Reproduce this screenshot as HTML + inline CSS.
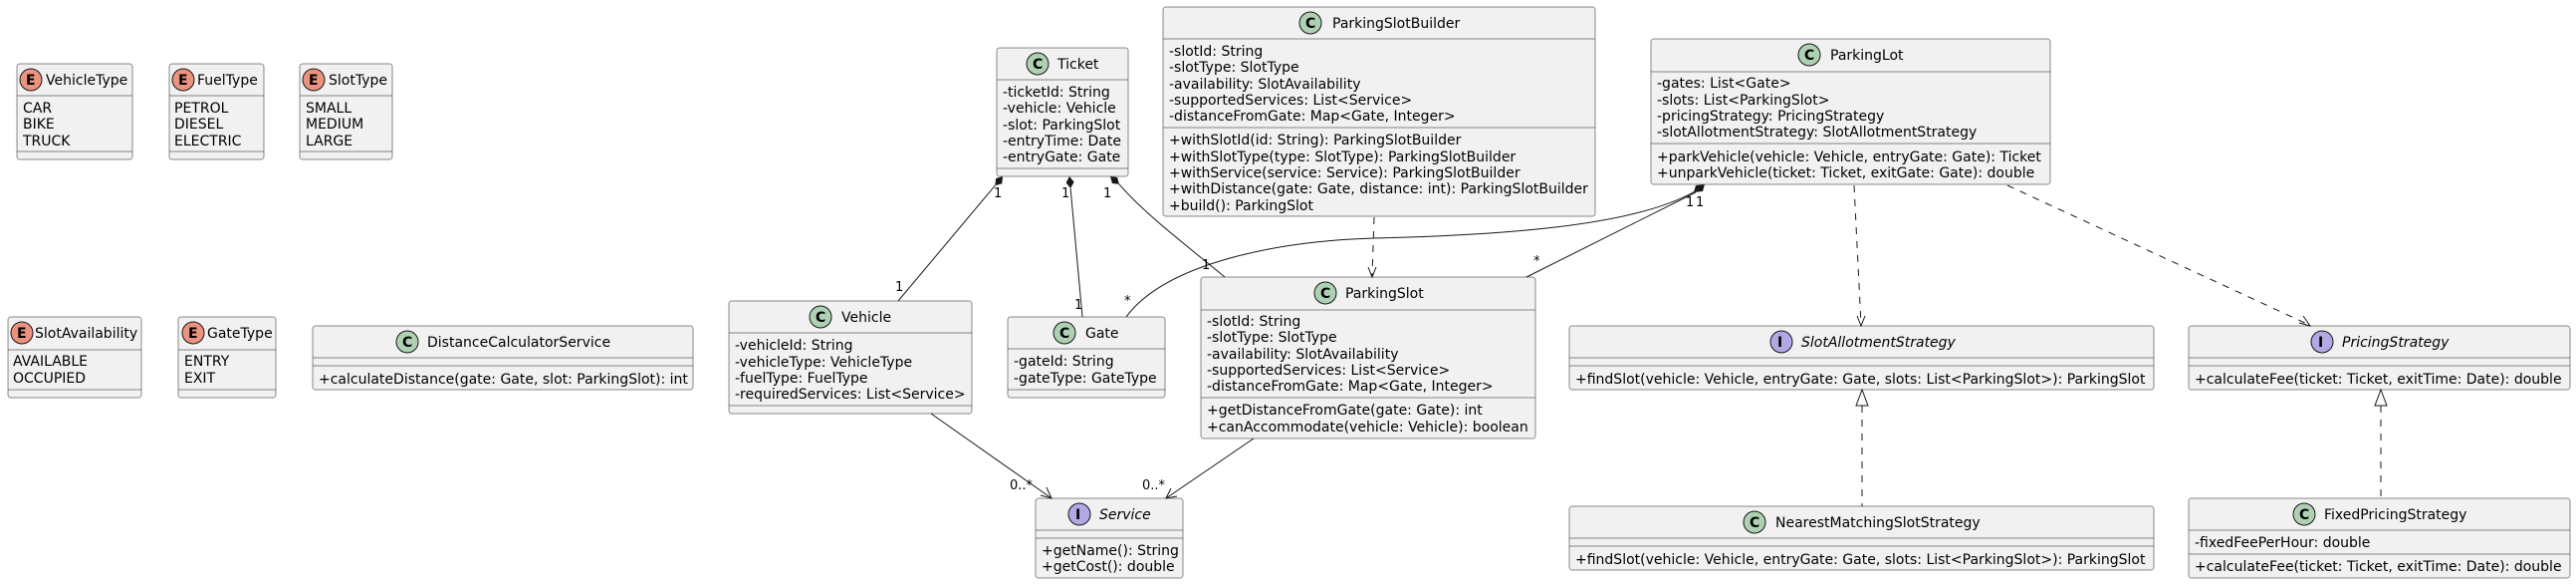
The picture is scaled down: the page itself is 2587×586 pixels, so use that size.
<!DOCTYPE html>
<html><head><meta charset="utf-8"><style>
html,body{margin:0;padding:0;background:#fff}
svg{display:block}
text{font-family:"DejaVu Sans","Liberation Sans",sans-serif;font-size:14px;fill:#000}
.b{fill:#F1F1F1;stroke:#181818;stroke-width:0.5}
.d{stroke:#181818;stroke-width:0.5}
.l{stroke:#181818;stroke-width:1;fill:none}
.ds{stroke:#181818;stroke-width:1;fill:none;stroke-dasharray:7,7}
.ce{fill:#EB937F;stroke:#181818;stroke-width:1}
.cc{fill:#ADD1B2;stroke:#181818;stroke-width:1}
.ci{fill:#B4A7E5;stroke:#181818;stroke-width:1}
.g{font-weight:bold;font-size:14px}
.i{font-style:italic}
.s{font-size:13px}
</style></head><body>
<svg width="2587" height="586" viewBox="0 0 2587 586" xmlns="http://www.w3.org/2000/svg">

<!-- VehicleType -->
<rect class="b" x="17" y="64" width="116" height="96" rx="2.5"/>
<line class="d" x1="17" y1="96" x2="133" y2="96"/><line class="d" x1="17" y1="152" x2="133" y2="152"/>
<circle class="ce" cx="31" cy="80" r="11"/><text class="g" x="26" y="85">E</text>
<text x="46" y="85">VehicleType</text>
<text x="23" y="113">CAR</text><text x="23" y="129">BIKE</text><text x="23" y="146">TRUCK</text>

<!-- FuelType -->
<rect class="b" x="170" y="64" width="95" height="96" rx="2.5"/>
<line class="d" x1="170" y1="96" x2="265" y2="96"/><line class="d" x1="170" y1="152" x2="265" y2="152"/>
<circle class="ce" cx="184" cy="80" r="11"/><text class="g" x="179" y="85">E</text>
<text x="198" y="85">FuelType</text>
<text x="175" y="113">PETROL</text><text x="175" y="129">DIESEL</text><text x="175" y="146">ELECTRIC</text>

<!-- SlotType -->
<rect class="b" x="301" y="64" width="93" height="96" rx="2.5"/>
<line class="d" x1="301" y1="96" x2="394" y2="96"/><line class="d" x1="301" y1="152" x2="394" y2="152"/>
<circle class="ce" cx="315" cy="80" r="11"/><text class="g" x="310" y="85">E</text>
<text x="330" y="85">SlotType</text>
<text x="307" y="113">SMALL</text><text x="307" y="129">MEDIUM</text><text x="307" y="146">LARGE</text>

<!-- SlotAvailability -->
<rect class="b" x="8" y="318" width="134" height="81" rx="2.5"/>
<line class="d" x1="8" y1="351" x2="142" y2="351"/><line class="d" x1="8" y1="391" x2="142" y2="391"/>
<circle class="ce" cx="22" cy="334" r="11"/><text class="g" x="17" y="339">E</text>
<text x="35" y="339">SlotAvailability</text>
<text x="13" y="367">AVAILABLE</text><text x="13" y="384">OCCUPIED</text>

<!-- GateType -->
<rect class="b" x="179" y="318" width="98" height="81" rx="2.5"/>
<line class="d" x1="179" y1="351" x2="277" y2="351"/><line class="d" x1="179" y1="391" x2="277" y2="391"/>
<circle class="ce" cx="194" cy="334" r="11"/><text class="g" x="189" y="339">E</text>
<text x="208" y="339">GateType</text>
<text x="185" y="367">ENTRY</text><text x="185" y="384">EXIT</text>

<!-- DistanceCalculatorService -->
<rect class="b" x="314" y="327" width="382" height="64" rx="2.5"/>
<line class="d" x1="314" y1="359" x2="696" y2="359"/><line class="d" x1="314" y1="367" x2="696" y2="367"/>
<circle class="cc" cx="409" cy="343" r="11"/><text class="g" x="404" y="348">C</text>
<text x="429" y="348">DistanceCalculatorService</text>
<text x="320" y="385">+calculateDistance(gate: Gate, slot: ParkingSlot): int</text>

<!-- Ticket -->
<rect class="b" x="1001" y="48" width="132" height="129" rx="2.5"/>
<line class="d" x1="1001" y1="80" x2="1133" y2="80"/><line class="d" x1="1001" y1="169" x2="1133" y2="169"/>
<circle class="cc" cx="1042" cy="64" r="11"/><text class="g" x="1037" y="69">C</text>
<text x="1062" y="69">Ticket</text>
<text x="1007" y="97">-ticketId: String</text><text x="1007" y="113">-vehicle: Vehicle</text><text x="1007" y="130">-slot: ParkingSlot</text><text x="1007" y="146">-entryTime: Date</text><text x="1007" y="162">-entryGate: Gate</text>

<!-- ParkingSlotBuilder -->
<rect class="b" x="1168" y="7" width="434" height="210" rx="2.5"/>
<line class="d" x1="1168" y1="39" x2="1602" y2="39"/><line class="d" x1="1168" y1="128" x2="1602" y2="128"/>
<circle class="cc" cx="1316" cy="23" r="11"/><text class="g" x="1311" y="28">C</text>
<text x="1338" y="28">ParkingSlotBuilder</text>
<text x="1174" y="56">-slotId: String</text><text x="1174" y="72">-slotType: SlotType</text><text x="1174" y="89">-availability: SlotAvailability</text><text x="1174" y="105">-supportedServices: List&lt;Service&gt;</text><text x="1174" y="121">-distanceFromGate: Map&lt;Gate, Integer&gt;</text>
<text x="1174" y="145">+withSlotId(id: String): ParkingSlotBuilder</text><text x="1174" y="162">+withSlotType(type: SlotType): ParkingSlotBuilder</text><text x="1174" y="178">+withService(service: Service): ParkingSlotBuilder</text><text x="1174" y="194">+withDistance(gate: Gate, distance: int): ParkingSlotBuilder</text><text x="1174" y="211">+build(): ParkingSlot</text>

<!-- ParkingLot -->
<rect class="b" x="1658" y="39" width="401" height="146" rx="2.5"/>
<line class="d" x1="1658" y1="72" x2="2059" y2="72"/><line class="d" x1="1658" y1="144" x2="2059" y2="144"/>
<circle class="cc" cx="1817" cy="55" r="11"/><text class="g" x="1812" y="60">C</text>
<text x="1838" y="60">ParkingLot</text>
<text x="1664" y="88">-gates: List&lt;Gate&gt;</text><text x="1664" y="105">-slots: List&lt;ParkingSlot&gt;</text><text x="1664" y="121">-pricingStrategy: PricingStrategy</text><text x="1664" y="137">-slotAllotmentStrategy: SlotAllotmentStrategy</text>
<text x="1664" y="162">+parkVehicle(vehicle: Vehicle, entryGate: Gate): Ticket</text><text x="1664" y="178">+unparkVehicle(ticket: Ticket, exitGate: Gate): double</text>

<!-- Vehicle -->
<rect class="b" x="732" y="302" width="244" height="113" rx="2.5"/>
<line class="d" x1="732" y1="334" x2="976" y2="334"/><line class="d" x1="732" y1="407" x2="976" y2="407"/>
<circle class="cc" cx="824" cy="318" r="11"/><text class="g" x="819" y="323">C</text>
<text x="845" y="323">Vehicle</text>
<text x="738" y="351">-vehicleId: String</text><text x="738" y="368">-vehicleType: VehicleType</text><text x="738" y="384">-fuelType: FuelType</text><text x="738" y="400">-requiredServices: List&lt;Service&gt;</text>

<!-- Gate -->
<rect class="b" x="1012" y="318" width="158" height="81" rx="2.5"/>
<line class="d" x1="1012" y1="350" x2="1170" y2="350"/><line class="d" x1="1012" y1="391" x2="1170" y2="391"/>
<circle class="cc" cx="1069" cy="334" r="11"/><text class="g" x="1064" y="339">C</text>
<text x="1090" y="339">Gate</text>
<text x="1018" y="367">-gateId: String</text><text x="1018" y="384">-gateType: GateType</text>

<!-- ParkingSlot -->
<rect class="b" x="1206" y="278" width="336" height="162" rx="2.5"/>
<line class="d" x1="1206" y1="311" x2="1542" y2="311"/><line class="d" x1="1206" y1="399" x2="1542" y2="399"/>
<circle class="cc" cx="1331" cy="294" r="11"/><text class="g" x="1326" y="299">C</text>
<text x="1351" y="299">ParkingSlot</text>
<text x="1212" y="327">-slotId: String</text><text x="1212" y="343">-slotType: SlotType</text><text x="1212" y="360">-availability: SlotAvailability</text><text x="1212" y="376">-supportedServices: List&lt;Service&gt;</text><text x="1212" y="392">-distanceFromGate: Map&lt;Gate, Integer&gt;</text>
<text x="1212" y="416">+getDistanceFromGate(gate: Gate): int</text><text x="1212" y="433">+canAccommodate(vehicle: Vehicle): boolean</text>

<!-- Service -->
<rect class="b" x="1040" y="500" width="148" height="80" rx="2.5"/>
<line class="d" x1="1040" y1="532" x2="1188" y2="532"/><line class="d" x1="1040" y1="540" x2="1188" y2="540"/>
<circle class="ci" cx="1084" cy="516" r="11"/><text class="g" x="1080" y="521">I</text>
<text class="i" x="1104" y="521">Service</text>
<text x="1046" y="557">+getName(): String</text><text x="1046" y="573">+getCost(): double</text>

<!-- SlotAllotmentStrategy -->
<rect class="b" x="1576" y="327" width="587" height="64" rx="2.5"/>
<line class="d" x1="1576" y1="359" x2="2163" y2="359"/><line class="d" x1="1576" y1="367" x2="2163" y2="367"/>
<circle class="ci" cx="1789" cy="343" r="11"/><text class="g" x="1785" y="348">I</text>
<text class="i" x="1809" y="348">SlotAllotmentStrategy</text>
<text x="1582" y="385">+findSlot(vehicle: Vehicle, entryGate: Gate, slots: List&lt;ParkingSlot&gt;): ParkingSlot</text>

<!-- PricingStrategy -->
<rect class="b" x="2198" y="327" width="383" height="64" rx="2.5"/>
<line class="d" x1="2198" y1="359" x2="2581" y2="359"/><line class="d" x1="2198" y1="367" x2="2581" y2="367"/>
<circle class="ci" cx="2332" cy="343" r="11"/><text class="g" x="2328" y="348">I</text>
<text class="i" x="2352" y="348">PricingStrategy</text>
<text x="2204" y="385">+calculateFee(ticket: Ticket, exitTime: Date): double</text>

<!-- NearestMatchingSlotStrategy -->
<rect class="b" x="1576" y="508" width="587" height="64" rx="2.5"/>
<line class="d" x1="1576" y1="540" x2="2163" y2="540"/><line class="d" x1="1576" y1="548" x2="2163" y2="548"/>
<circle class="cc" cx="1762" cy="524" r="11"/><text class="g" x="1757" y="529">C</text>
<text x="1783" y="529">NearestMatchingSlotStrategy</text>
<text x="1582" y="566">+findSlot(vehicle: Vehicle, entryGate: Gate, slots: List&lt;ParkingSlot&gt;): ParkingSlot</text>

<!-- FixedPricingStrategy -->
<rect class="b" x="2198" y="500" width="383" height="80" rx="2.5"/>
<line class="d" x1="2198" y1="532" x2="2581" y2="532"/><line class="d" x1="2198" y1="556" x2="2581" y2="556"/>
<circle class="cc" cx="2314" cy="516" r="11"/><text class="g" x="2309" y="521">C</text>
<text x="2334" y="521">FixedPricingStrategy</text>
<text x="2204" y="549">-fixedFeePerHour: double</text>
<text x="2204" y="573">+calculateFee(ticket: Ticket, exitTime: Date): double</text>

<!-- Ticket compositions -->
<polygon points="1007,177 1006.3,184.2 999.3,186.2 1000.1,179" fill="#181818"/>
<line class="l" x1="999.3" y1="186.2" x2="902" y2="302"/>
<polygon points="1074,177 1078.6,182.6 1075.1,189 1070.6,183.4" fill="#181818"/>
<line class="l" x1="1075.1" y1="189" x2="1087" y2="318"/>
<polygon points="1115,177 1122.1,178 1124,184.9 1116.9,184" fill="#181818"/>
<path class="l" d="M1124,184.9 C1150,215 1190,245 1230,278"/>
<text class="s" x="998" y="198">1</text><text class="s" x="1066" y="198">1</text><text class="s" x="1108" y="198">1</text>
<text class="s" x="899" y="292">1</text><text class="s" x="1079" y="310">1</text><text class="s" x="1207" y="270">1</text>

<!-- ParkingLot compositions -->
<polygon points="1712,185 1710,192 1701,193 1703,186" fill="#181818"/>
<path class="l" d="M1702,192 C1640,228 1500,236 1380,239 C1280,242 1170,265 1131,318"/>
<line class="l" x1="1703" y1="193" x2="1533" y2="278"/>
<text class="s" x="1693" y="207">1</text><text class="s" x="1703" y="207">1</text>
<text class="s" x="1129" y="306">*</text><text class="s" x="1540" y="266">*</text>

<!-- Builder dependency -->
<line class="ds" x1="1380" y1="218" x2="1378" y2="277"/>
<polyline class="l" points="1374,268 1378,278 1382,268"/>

<!-- ParkingLot dependencies -->
<line class="ds" x1="1862" y1="186" x2="1869" y2="326"/>
<polyline class="l" points="1865,317 1869,327 1873,317"/>
<line class="ds" x1="2016" y1="186" x2="2319" y2="326"/>
<polyline class="l" points="2309,324 2320,327 2313,317"/>

<!-- Service associations -->
<line class="l" x1="935" y1="415" x2="1056" y2="500"/>
<polyline class="l" points="1045,497 1056,500 1051,489"/>
<line class="l" x1="1259" y1="440" x2="1171" y2="500"/>
<polyline class="l" points="1176,490 1171,500 1182,498"/>
<text class="s" x="1014" y="491">0..*</text><text class="s" x="1147" y="491">0..*</text>

<!-- Realizations -->
<polygon points="1870,391 1864,407 1876,407" fill="#fff" stroke="#181818" stroke-width="1"/>
<line class="ds" x1="1870" y1="407" x2="1870" y2="508"/>
<polygon points="2391,391 2385,407 2397,407" fill="#fff" stroke="#181818" stroke-width="1"/>
<line class="ds" x1="2391" y1="407" x2="2391" y2="500"/>
</svg>
</body></html>
